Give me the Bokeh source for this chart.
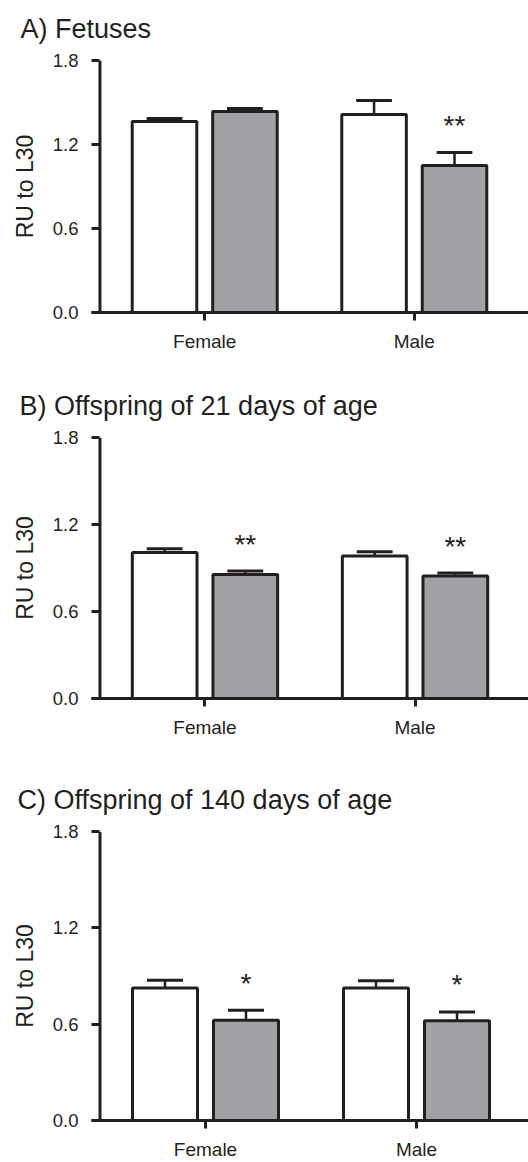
from bokeh.plotting import figure
from bokeh.layouts import column
from bokeh.models import Range1d, FixedTicker, PrintfTickFormatter, Span, ColumnDataSource, Title
from bokeh.core.properties import value
from bokeh.embed import file_html
from bokeh.resources import INLINE

groups = ["Female", "Male"]
y_ticks = [0.0, 0.6, 1.2, 1.8]

titles = ["A) Fetuses", "B) Offspring of 21 days of age", "C) Offspring of 140 days of age"]

A_ctrl = [1.364, 1.414]
A_ctrl_err = [0.022, 0.100]
A_treat = [1.436, 1.050]
A_treat_err = [0.021, 0.093]
A_sig = ["", "**"]

B_ctrl = [1.007, 0.982]
B_ctrl_err = [0.025, 0.030]
B_treat = [0.855, 0.844]
B_treat_err = [0.024, 0.021]
B_sig = ["**", "**"]

C_ctrl = [0.826, 0.826]
C_ctrl_err = [0.047, 0.044]
C_treat = [0.625, 0.621]
C_treat_err = [0.061, 0.055]
C_sig = ["*", "*"]

DARK = "#231f20"
GREY = "#a1a2a6"
FONT = "Liberation Sans"
PX_PER_UNIT = 211.0
W = 528

def panel(title, ctrl, ctrl_err, treat, treat_err, sig, height, border_left, border_top, border_bottom):
    frame_w = W - border_left
    x0 = 0.5 - 8.5 / PX_PER_UNIT
    p = figure(width=W, height=height, output_backend="svg", toolbar_location=None,
               x_range=Range1d(x0, x0 + frame_w / PX_PER_UNIT), y_range=Range1d(0, 1.8),
               min_border_left=border_left, min_border_right=0,
               min_border_top=border_top, min_border_bottom=border_bottom)
    p.outline_line_color = None
    p.xgrid.grid_line_color = None
    p.ygrid.grid_line_color = None
    p.background_fill_color = "white"

    t = Title(text=title, align="left", vertical_align="top", text_font=FONT, text_font_size="27px",
              text_font_style="normal", text_color=DARK, offset=-(border_left - 17), standoff=10,
              padding=dict(left=0, right=0, top=0, bottom=10))
    p.add_layout(t, "above")

    xs = [1, 2]
    off = 40.5 / PX_PER_UNIT
    bw = 65.0 / PX_PER_UNIT
    cw = 36.0 / PX_PER_UNIT
    for vals, errs, fill, sgn in [(ctrl, ctrl_err, "white", -1), (treat, treat_err, GREY, 1)]:
        bx = [x + sgn * off for x in xs]
        tops = [v + e for v, e in zip(vals, errs)]
        src = ColumnDataSource(dict(x=bx, top=vals, etop=tops,
                                    cx0=[x - cw / 2 for x in bx], cx1=[x + cw / 2 for x in bx]))
        p.segment(x0="x", y0="top", x1="x", y1="etop", source=src, line_color=DARK, line_width=2.5)
        p.segment(x0="cx0", y0="etop", x1="cx1", y1="etop", source=src, line_color=DARK, line_width=3)
        p.vbar(x="x", top="top", bottom=0, width=bw, source=src, fill_color=fill,
               line_color=DARK, line_width=3)

    sx = [x + off for x in xs]
    sy = [v + e for v, e in zip(treat, treat_err)]
    ssrc = ColumnDataSource(dict(x=sx, y=sy, t=sig))
    p.text(x="x", y="y", text="t", source=ssrc, text_align="center", text_baseline="alphabetic",
           y_offset=-27, text_font=value(FONT), text_font_size="28px", text_color=DARK)

    p.add_layout(Span(location=0.5, dimension="height", line_color=DARK, line_width=3))

    xa = p.xaxis[0]
    xa.ticker = FixedTicker(ticks=xs)
    xa.major_label_overrides = {x: g for x, g in zip(xs, groups)}
    xa.minor_tick_line_color = None
    xa.major_tick_in = 0
    xa.major_tick_out = 8
    xa.major_tick_line_width = 3
    xa.major_tick_line_color = DARK
    xa.axis_line_width = 3
    xa.axis_line_color = DARK
    xa.major_label_text_font = FONT
    xa.major_label_text_font_size = "19px"
    xa.major_label_text_color = DARK
    xa.major_label_standoff = 10

    ya = p.yaxis[0]
    ya.ticker = FixedTicker(ticks=y_ticks)
    ya.formatter = PrintfTickFormatter(format="%.1f")
    ya.minor_tick_line_color = None
    ya.axis_line_color = None
    ya.major_tick_in = 8
    ya.major_tick_out = 0
    ya.major_tick_line_width = 3
    ya.major_tick_line_color = DARK
    ya.major_label_text_font = FONT
    ya.major_label_text_font_size = "18.5px"
    ya.major_label_text_color = DARK
    ya.major_label_standoff = 13
    ya.axis_label = "RU to L30"
    ya.axis_label_text_font = FONT
    ya.axis_label_text_font_size = "23px"
    ya.axis_label_text_font_style = "normal"
    ya.axis_label_text_color = DARK
    ya.axis_label_standoff = 12
    return p

pA = panel(titles[0], A_ctrl, A_ctrl_err, A_treat, A_treat_err, A_sig, 370, 88, 60, 58)
pB = panel(titles[1], B_ctrl, B_ctrl_err, B_treat, B_treat_err, B_sig, 398, 89, 67, 70)
pC = panel(titles[2], C_ctrl, C_ctrl_err, C_treat, C_treat_err, C_sig, 394, 91, 63, 39)

layout = column(pA, pB, pC, spacing=0)
open("out.html", "w").write(file_html(layout, INLINE))
